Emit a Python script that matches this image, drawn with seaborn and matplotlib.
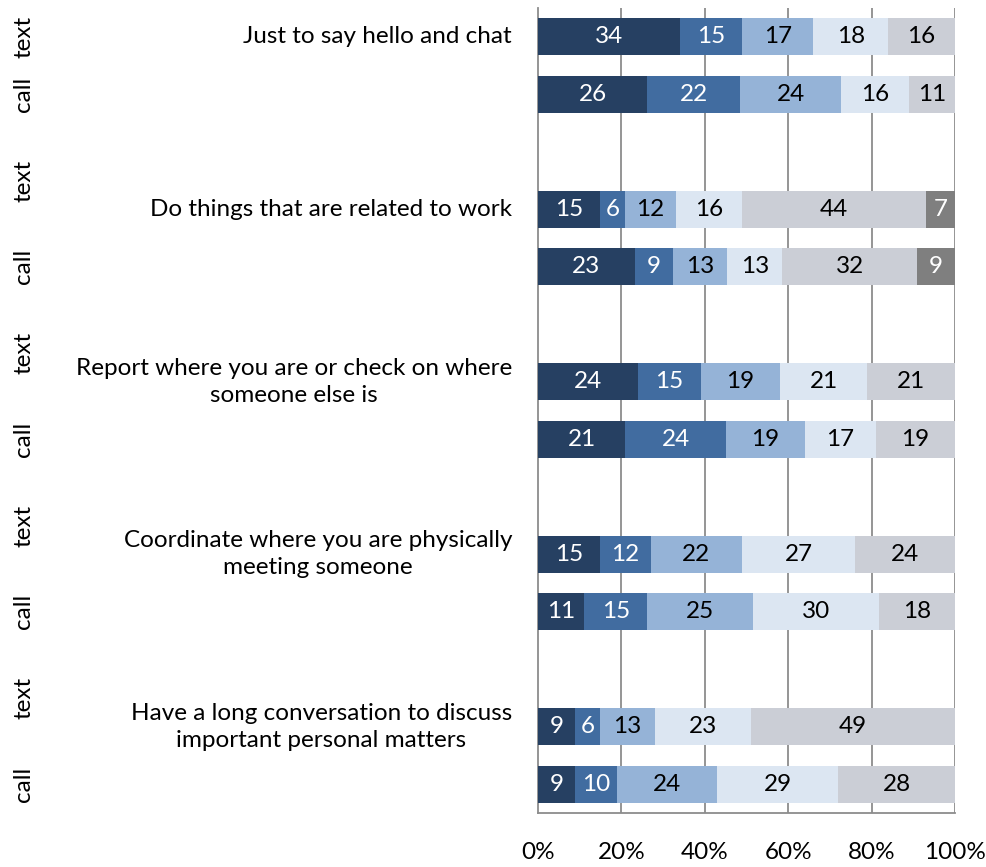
import numpy as np
import matplotlib
matplotlib.use("Agg")
import matplotlib.pyplot as plt
import seaborn as sns

# Activities asked about (one text row and one call row per activity)
activities = [
    "Just to say hello and chat",
    "Do things that are related to work",
    "Report where you are or check on where\nsomeone else is",
    "Coordinate where you are physically\nmeeting someone",
    "Have a long conversation to discuss\nimportant personal matters",
]
modes = ["text", "call"]

# Response shares (%) per row, stacked left to right
seg1 = [34, 26, 15, 23, 24, 21, 15, 11, 9, 9]
seg2 = [15, 22, 6, 9, 15, 24, 12, 15, 6, 10]
seg3 = [17, 24, 12, 13, 19, 19, 22, 25, 13, 24]
seg4 = [18, 16, 16, 13, 21, 17, 27, 30, 23, 29]
seg5 = [16, 11, 44, 32, 21, 19, 24, 18, 49, 28]
seg6 = [0, 0, 7, 9, 0, 0, 0, 0, 0, 0]

segments = [seg1, seg2, seg3, seg4, seg5, seg6]
seg_colors = ["#264062", "#416CA0", "#95B3D7", "#DCE6F2", "#CBCED6", "#7F7F7F"]
label_colors = ["white", "white", "black", "black", "black", "white"]

tick_values = [0, 20, 40, 60, 80, 100]
tick_labels = ["0%", "20%", "40%", "60%", "80%", "100%"]

sns.set_theme(style="white")
plt.rcParams["font.family"] = ["Lato", "DejaVu Sans"]
FS = 17.5

fig = plt.figure(figsize=(9.87, 8.67), dpi=100)
ax = fig.add_axes([0.545, 0.0623, 0.4225, 0.9285])

# Row positions: each activity takes three slots (text, call, blank gap)
n_rows = len(seg1)
ypos = np.array([3 * (i // 2) + (i % 2) for i in range(n_rows)], dtype=float)

# 100% stacked: each row is scaled by its own total
raw = np.array(segments, dtype=float)
totals = raw.sum(axis=0)
shares = raw / totals * 100

left = np.zeros(n_rows)
for vals, widths, col, lcol in zip(raw, shares, seg_colors, label_colors):
    ax.barh(ypos, widths, left=left, height=0.645, color=col, edgecolor="none", zorder=3)
    for y, l, v, w in zip(ypos, left, vals, widths):
        if v > 0:
            ax.text(l + w / 2, y, f"{int(v)}", ha="center", va="center",
                    color=lcol, fontsize=FS, zorder=4)
    left += widths

ax.set_xlim(0, 100)
ax.set_ylim(13.5, -0.5)
ax.set_xticks(tick_values)
ax.set_xticklabels(tick_labels, fontsize=FS, color="black")
ax.tick_params(axis="x", length=0, pad=21)
ax.set_yticks([])
for v in tick_values[1:]:
    ax.axvline(v, color="#8C8C8C", lw=1.3, zorder=1)

for side in ["top", "right"]:
    ax.spines[side].set_visible(False)
for side in ["left", "bottom"]:
    ax.spines[side].set_color("#8C8C8C")
    ax.spines[side].set_linewidth(1.3)

# Activity labels beside each text row
label_x = -6.2
for k, name in enumerate(activities):
    ax.text(label_x, 3 * k, name, ha="right", va="center", multialignment="center",
            linespacing=1.35, fontsize=FS, color="black")

# Mode labels down the left edge
mode_y = {"text": [0, 2.5, 5.5, 8.5, 11.5], "call": [1, 4, 7, 10, 13]}
for m in modes:
    for y in mode_y[m]:
        yf = ax.transData.transform((0, y))[1] / fig.bbox.height
        fig.text(0.024, yf, m, rotation=90, ha="center", va="center",
                 fontsize=FS, color="black")

fig.savefig("out.png", dpi=100, facecolor="white")
